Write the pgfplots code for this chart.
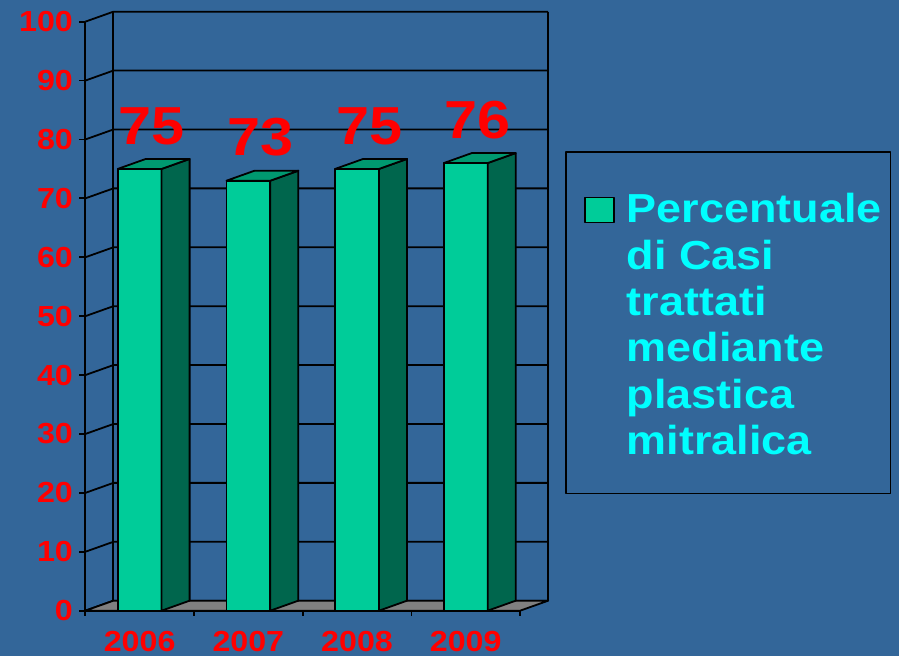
\documentclass[border=0pt]{standalone}
\usepackage{pgfplots}
\pgfplotsset{compat=1.18}
\usepackage{fontspec}
\setmainfont{Liberation Sans}[FakeStretch=1.11]

\definecolor{slideblue}{RGB}{51,102,153}
\definecolor{barfront}{RGB}{0,204,153}
\definecolor{barside}{RGB}{0,102,77}
\definecolor{bartop}{RGB}{0,153,112}
\definecolor{floorgray}{RGB}{128,128,128}
\definecolor{legendcyan}{RGB}{0,255,255}

% percentage of cases treated by mitral valvuloplasty, per year
\pgfplotstableread{
x v
0 75
1 73
2 75
3 76
}\casidata

\pgfdeclareplotmark{blank}{}

\begin{document}
\begin{tikzpicture}[line join=round, wall/.style={draw=black, line width=0.9pt}]
\fill[slideblue] (0,0) rectangle (449.5pt,328pt);
\begin{axis}[
  at={(42.65pt,22.65pt)}, anchor=south west,
  x=54.35pt, y=2.945pt,
  xmin=-0.5, xmax=3.7583, ymin=0, ymax=101.698,
  clip=false,
  axis line style={draw=none},
  tick style={draw=none},
  major tick length=0pt,
  xtick={0,1,2,3},
  xticklabels={2006,2007,2008,2009},
  ytick={0,10,...,100},
  /pgf/number format/assume math mode=true,
  ticklabel style={text=red, font=\bfseries\fontsize{14.5}{14.5}\selectfont, inner sep=0pt},
  yticklabel style={anchor=east, xshift=-6pt},
  xticklabel style={anchor=base, yshift=-20.5pt},
  legend style={
    at={(1.0374,0.7674)}, anchor=north west,
    draw=black, line width=0.9pt, fill=slideblue,
    text=legendcyan, font=\bfseries\fontsize{20.25}{23.15}\selectfont,
    inner xsep=4.5pt, inner ysep=18pt, column sep=6pt,
    nodes={inner sep=0pt, anchor=base west},
  },
]

% side wall, back wall and their gridlines
\pgfplotsinvokeforeach{0,10,20,30,40,50,60,70,80,90,100}{
  \draw[wall] (axis cs:-0.5,#1) -- ++(axis direction cs:0.2583,1.698) -- ++(axis direction cs:4,0);
}
\draw[wall] (axis cs:-0.2417,1.698) -- (axis cs:-0.2417,101.698);
\draw[wall] (axis cs:3.7583,1.698) -- (axis cs:3.7583,101.698);

% floor
\filldraw[wall, fill=floorgray] (axis cs:-0.5,0) -- (axis cs:3.5,0)
  -- (axis cs:3.7583,1.698) -- (axis cs:-0.2417,1.698) -- cycle;

% front axis lines and tick marks
\draw[wall] (axis cs:-0.5,0) -- (axis cs:-0.5,100);
\draw[wall] (axis cs:-0.5,0) -- (axis cs:3.5,0);
\pgfplotsinvokeforeach{0,10,20,30,40,50,60,70,80,90,100}{
  \draw[wall] (axis cs:-0.5,#1) -- ++(-3.3pt,0pt);
}
\pgfplotsinvokeforeach{-0.5,0.5,1.5,2.5,3.5}{
  \draw[wall] (axis cs:#1,0) -- ++(0pt,-2.8pt);
}

% top and side faces of each bar, built from the bar's value
\addplot[
  scatter, only marks, mark=blank, forget plot,
  visualization depends on={\thisrow{v} \as \barv},
  scatter/@pre marker code/.append code={%
    \pgfmathsetmacro\sidebot{1.698-\barv}%
    \pgfmathsetmacro\frontbot{-\barv}%
    \filldraw[fill=barside, draw=black, line width=0.9pt]
      (axis direction cs:0.2016,0) -- (axis direction cs:0.4599,1.698)
      -- (axis direction cs:0.4599,\sidebot) -- (axis direction cs:0.2016,\frontbot) -- cycle;
    \filldraw[fill=bartop, draw=black, line width=0.9pt]
      (axis direction cs:-0.2016,0) -- (axis direction cs:0.2016,0)
      -- (axis direction cs:0.4599,1.698) -- (axis direction cs:0.0567,1.698) -- cycle;
  },
] table[x=x, y=v] {\casidata};

% front faces with value labels
\addplot[
  ybar, bar width=0.4031, fill=barfront, draw=black, line width=0.9pt,
  legend image code/.code={%
    \path (0pt,0pt);
    \draw[fill=barfront, draw=black, line width=0.9pt] (4.25pt,116pt) rectangle (18.75pt,128.5pt);
  },
  nodes near coords,
  nodes near coords style={anchor=south, inner sep=0pt, xshift=6pt, yshift=11.75pt,
    text=red, font=\bfseries\fontsize{26.75}{26.75}\selectfont},
] table[x=x, y=v] {\casidata};
\addlegendentry{\begin{tabular}[b]{@{}l@{}}\rule{0pt}{17.5pt}Percentuale\\di Casi\\trattati\\mediante\\plastica\\mitralica\end{tabular}}

\end{axis}
\end{tikzpicture}
\end{document}
